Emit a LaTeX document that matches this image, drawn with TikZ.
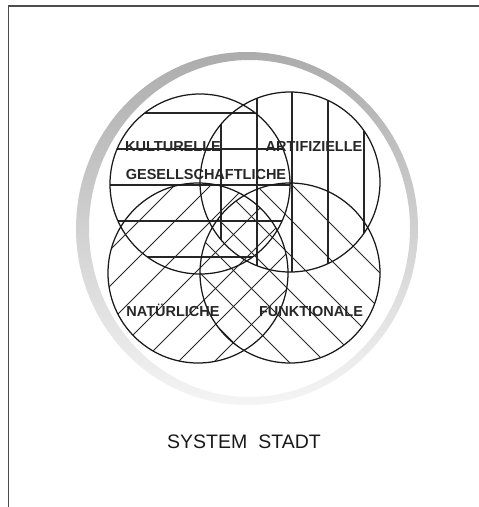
\documentclass[tikz,border=0pt]{standalone}
\usepackage{fontspec}
\setmainfont{Liberation Sans}
\usetikzlibrary{positioning}
\tikzset{
  setc/.style={draw=black!90, line width=1.25pt, circle, minimum size=180pt, inner sep=0pt},
  hatch/.style={draw=black!85, line width=1.05pt},
  setlab/.style={font=\bfseries\fontsize{14.5}{16}\selectfont, text=black!85, inner sep=0pt, anchor=base},
  titlelab/.style={font=\fontsize{19.5}{22}\selectfont, text=black!90, inner sep=0pt, anchor=base},
  halo/.style={even odd rule, shading angle=45, top color=gray!65, bottom color=gray!8},
  frame/.style={draw=black!70, line width=1.4pt},
}
\begin{document}
\begin{tikzpicture}[x=1pt, y=-1pt]
  \useasboundingbox (0,0) rectangle (479,507);
  % frame
  \coordinate (fbot) at (8.5,507);
  \coordinate (fcorner) at (8.5,6);
  \coordinate (fright) at (479,6);
  \draw[frame] (fbot) -- (fcorner) -- (fright);
  % halo ring
  \shade[halo] (247,228.5) ellipse [x radius=171pt, y radius=176.5pt]
    (249.5,228.5) ellipse [x radius=160.5pt, y radius=168.5pt];
  % hatching
  \begin{scope}
    \clip (200,184) circle (90pt);
    \foreach \y in {113,149,185,221,257}
      \draw[hatch] (100,\y) -- (300,\y);
  \end{scope}
  \begin{scope}
    \clip (290,182) circle (90pt);
    \foreach \x in {221,257,292,328,364}
      \draw[hatch] (\x,80) -- (\x,290);
  \end{scope}
  \begin{scope}
    \clip (198,273) circle (90pt);
    \foreach \c in {360,396,...,576}
      \draw[hatch] (\c-400,400) -- (\c-100,100);
  \end{scope}
  \begin{scope}
    \clip (290,273) circle (90pt);
    \foreach \c in {-109,-73,...,107}
      \draw[hatch] (\c+100,100) -- (\c+400,400);
  \end{scope}
  % the four sets
  \node[setc] (kult) at (200,184) {};
  \node[setc] (arti) at (290,182) {};
  \node[setc] (natu) at (198,273) {};
  \node[setc] (funk) at (290,273) {};
  % labels
  \node[setlab] (kultlab) at (173,151) {KULTURELLE};
  \node[setlab] (artilab) at (314,151) {ARTIFIZIELLE};
  \node[setlab] (gesellab) at (206,179.5) {GESELLSCHAFTLICHE};
  \node[setlab] (natulab) at (173,316) {NATÜRLICHE};
  \node[setlab] (funklab) at (311,316) {FUNKTIONALE};
  \node[titlelab] (title) at (244,448) {SYSTEM\hspace{11pt}STADT};
\end{tikzpicture}
\end{document}
